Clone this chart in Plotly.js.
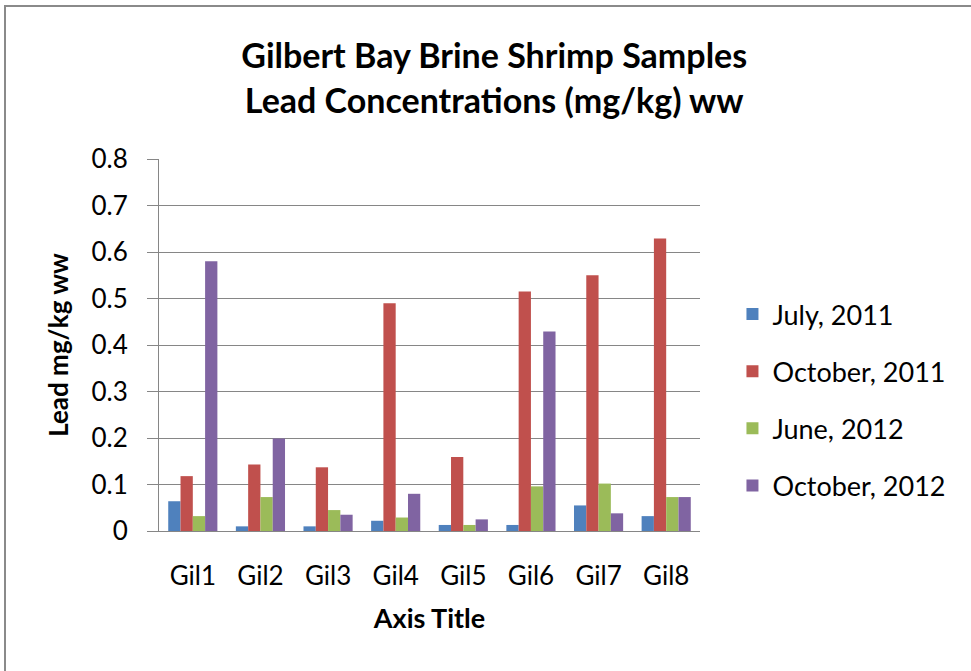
<!DOCTYPE html>
<html>
<head>
<meta charset="utf-8">
<script src="https://cdn.plot.ly/plotly-3.0.1.min.js"></script>
<style>
  html, body { margin: 0; padding: 0; background: #fff; }
  #wrap { position: relative; width: 971px; height: 671px; overflow: hidden; }
  #frame { position: absolute; left: 4px; top: 5px; width: 1200px; height: 1200px;
           border-left: 2px solid #8a8a8a; border-top: 2px solid #8a8a8a; pointer-events: none; z-index: 5; }
  #chart { position: absolute; left: 0; top: 0; width: 971px; height: 671px; }
</style>
</head>
<body>
<div id="wrap">
  <div id="chart"></div>
  <div id="frame"></div>
</div>
<script>
const categories = ["Gil1", "Gil2", "Gil3", "Gil4", "Gil5", "Gil6", "Gil7", "Gil8"];
const seriesNames = ["July, 2011", "October, 2011", "June, 2012", "October, 2012"];
const july2011    = [0.064, 0.010, 0.010, 0.022, 0.013, 0.013, 0.055, 0.032];
const october2011 = [0.118, 0.143, 0.137, 0.490, 0.159, 0.515, 0.550, 0.629];
const june2012    = [0.032, 0.073, 0.045, 0.029, 0.013, 0.096, 0.102, 0.073];
const october2012 = [0.580, 0.199, 0.035, 0.080, 0.025, 0.429, 0.038, 0.073];
const colors = ["#4F81BD", "#C0504D", "#9BBB59", "#8064A2"];

const seriesValues = [july2011, october2011, june2012, october2012];
const FONT = "Lato, 'Open Sans', sans-serif";

const traces = seriesValues.map((vals, i) => ({
  type: "bar",
  name: seriesNames[i],
  x: categories,
  y: vals,
  legendgroup: "g" + i,
  marker: { color: colors[i], line: { width: 0 } }
}));

const layout = {
  width: 971, height: 671,
  paper_bgcolor: "#ffffff", plot_bgcolor: "#ffffff",
  margin: { l: 159, r: 271, t: 159, b: 140 },
  font: { family: FONT, color: "#000000", size: 26 },
  title: {
    text: "<b>Gilbert Bay Brine Shrimp Samples<br>Lead Concentrations (mg/kg) ww</b>",
    font: { family: FONT, size: 34, color: "#000000" },
    x: 0.509, xanchor: "center", xref: "container",
    y: 0.898, yanchor: "middle", yref: "container"
  },
  barmode: "group",
  bargap: 0.273,
  bargroupgap: 0,
  showlegend: true,
  legend: {
    x: 1.06, xanchor: "left", y: 0.352, yanchor: "middle",
    font: { family: FONT, size: 27, color: "#000000" },
    tracegroupgap: 19,
    traceorder: "grouped",
    itemwidth: 30,
    bgcolor: "rgba(0,0,0,0)"
  },
  xaxis: {
    type: "category",
    showline: true, linecolor: "#868686", linewidth: 1,
    ticks: "", showgrid: false,
    tickfont: { family: FONT, size: 26, color: "#000000" },
    ticklabelstandoff: 22,
    title: { text: "<b>Axis Title</b>", font: { family: FONT, size: 27, color: "#000000" }, standoff: 18 },
    automargin: false,
    fixedrange: true
  },
  yaxis: {
    range: [0, 0.8],
    dtick: 0.1, tick0: 0,
    showline: true, linecolor: "#868686", linewidth: 1,
    showgrid: true, gridcolor: "#868686", gridwidth: 1,
    zeroline: false,
    ticks: "outside", ticklen: 11, tickcolor: "#868686", tickwidth: 1,
    tickfont: { family: FONT, size: 26, color: "#000000" },
    ticklabelstandoff: 14,
    title: { text: "<b>Lead mg/kg ww</b>", font: { family: FONT, size: 26, color: "#000000" }, standoff: 15 },
    automargin: false,
    fixedrange: true
  }
};

Plotly.newPlot("chart", traces, layout, { displayModeBar: false, staticPlot: true });
</script>
</body>
</html>
